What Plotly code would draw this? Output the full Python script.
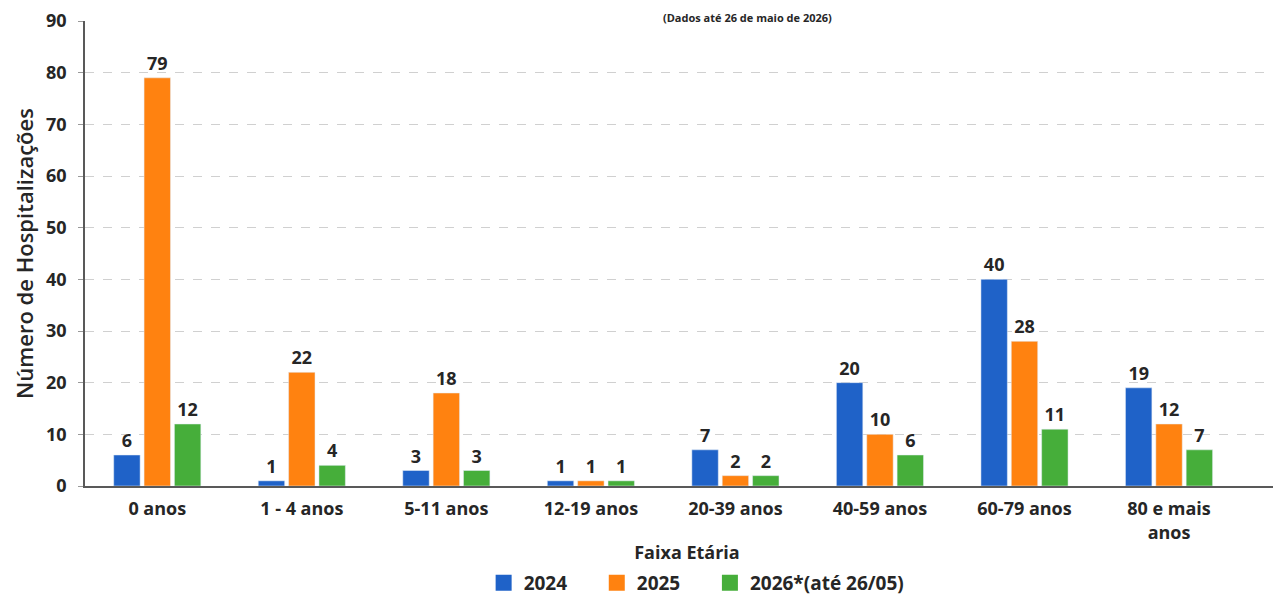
import plotly.graph_objects as go

# ── Hospitalizações por faixa etária ─────────────────────────
faixas = ["0 anos", "1 - 4 anos", "5-11 anos", "12-19 anos",
          "20-39 anos", "40-59 anos", "60-79 anos", "80 e mais<br>anos"]
anos = ["2024", "2025", "2026*(até 26/05)"]
v2024 = [6, 1, 3, 1, 7, 20, 40, 19]
v2025 = [79, 22, 18, 1, 2, 10, 28, 12]
v2026 = [12, 4, 3, 1, 2, 6, 11, 7]
cores = ["#1F62C8", "#FF8210", "#46AE3A"]

FONT = "Open Sans"
TXT = "#262626"
PAD = "&nbsp;" * 5   # extra room between legend entries

fig = go.Figure()
for nome, vals, cor in zip(anos, [v2024, v2025, v2026], cores):
    fig.add_trace(go.Bar(
        name=nome,
        x=faixas,
        y=vals,
        marker_color=cor,
        text=vals,
        textposition="outside",
        textfont=dict(size=18, color=TXT, family=FONT, weight="bold"),
        cliponaxis=False,
        showlegend=False,
    ))

# legend entries (bigger square swatches)
for i, (nome, cor) in enumerate(zip(anos, cores)):
    fig.add_trace(go.Scatter(
        name=nome + (PAD if i < len(anos) - 1 else ""),
        x=[None], y=[None],
        mode="markers",
        marker=dict(symbol="square", size=20, color=cor),
    ))

# page has an 8px body margin, so margins are trimmed by 8px
fig.update_layout(
    barmode="group",
    bargap=0.37,
    bargroupgap=0.13,
    width=1281,
    height=590,
    paper_bgcolor="white",
    plot_bgcolor="white",
    font=dict(family=FONT, color=TXT),
    margin=dict(l=77, r=0, t=13, b=112, autoexpand=False),
    xaxis=dict(
        range=[-0.5, 7.83],
        showline=True, linecolor="#595959", linewidth=1.5,
        tickfont=dict(size=18, family=FONT, weight="bold"),
        ticks="",
        ticklabelstandoff=6,
        automargin=False,
        title=dict(text="Faixa Etária", font=dict(size=18, weight="bold"), standoff=4),
    ),
    yaxis=dict(
        range=[0, 90],
        dtick=10,
        showline=True, linecolor="#595959", linewidth=1.5,
        showgrid=True, gridcolor="#D0D0D0", griddash="dash", gridwidth=1,
        ticks="outside", ticklen=5, tickcolor="#999999",
        tickfont=dict(size=18, family=FONT, weight="bold"),
        ticklabelstandoff=8,
        automargin=False,
        title=dict(text="Número de Hospitalizações",
                   font=dict(size=22, weight=600), standoff=6),
        zeroline=False,
    ),
    legend=dict(
        orientation="h",
        x=0.508, xanchor="center",
        y=-0.249, yanchor="bottom",
        font=dict(size=19, family=FONT, weight="bold"),
        itemsizing="trace",
        traceorder="normal",
    ),
    annotations=[dict(
        text="(Dados até 26 de maio de 2026)",
        xref="paper", yref="paper",
        x=0.55, y=1.0, yanchor="top",
        yshift=13,
        showarrow=False,
        font=dict(size=11, family=FONT, color=TXT, weight="bold"),
    )],
)

fig.write_html("out.html")
